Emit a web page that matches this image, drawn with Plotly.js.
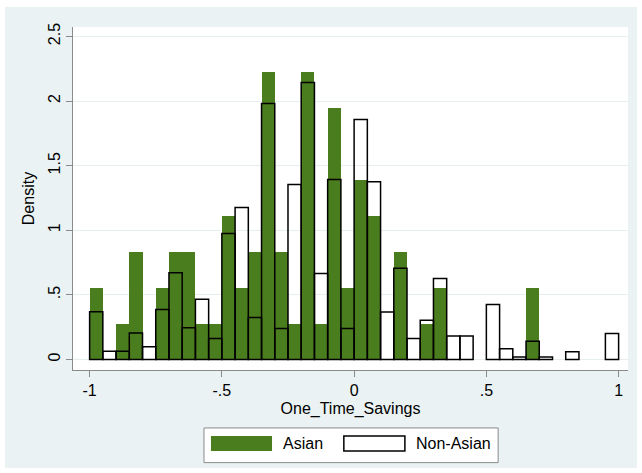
<!DOCTYPE html>
<html>
<head>
<meta charset="utf-8">
<script src="https://cdn.plot.ly/plotly-3.0.1.min.js"></script>
<style>
html,body{margin:0;padding:0;background:#ffffff;}
#chart{position:absolute;left:5px;top:7px;width:632px;height:461px;}
</style>
</head>
<body>
<div id="chart"></div>
<script>
// Bin left edges run from -1 to 0.95 in steps of 0.05 (40 bins)
var binWidth = 0.05;
var binStart = -1;
var asianDensity = [0.556,0,0.278,0.833,0,0.556,0.833,0.833,0.278,0.278,
                    1.111,0.556,0.833,2.222,0.833,0.278,2.222,0.278,1.944,0.556,
                    1.389,1.111,0,0.833,0,0.278,0.556,0,0,0,
                    0,0,0,0.556,0,0,0,0,0,0];
var nonAsianDensity = [0.369,0.065,0.065,0.206,0.098,0.387,0.671,0.245,0.467,0.163,
                       0.975,1.177,0.325,1.981,0.240,1.354,2.144,0.666,1.393,0.240,
                       1.858,1.375,0.367,0.707,0.163,0.304,0.627,0.183,0.183,0,
                       0.426,0.083,0.020,0.142,0.020,0,0.060,0,0,0.201];
var xTickVals = [-1,-0.5,0,0.5,1];
var xTickText = ["-1","-.5","0",".5","1"];
var yTickVals = [0,0.5,1,1.5,2,2.5];
var yTickText = ["0",".5","1","1.5","2","2.5"];
var seriesNames = ["Asian","Non-Asian"];

var green = "#4a7d1e";
var centers = asianDensity.map(function(_, i){ return +(binStart + binWidth*(i+0.5)).toFixed(3); });
function nz(a){ return a.map(function(v){ return v === 0 ? null : v; }); }

var traces = [
  {type:"bar", x:centers, y:nz(asianDensity), width:binWidth, name:seriesNames[0],
   marker:{color:green, line:{width:0}}, hoverinfo:"x+y"},
  {type:"bar", x:centers, y:nz(nonAsianDensity), width:binWidth, name:seriesNames[1],
   marker:{color:"rgba(0,0,0,0)", line:{color:"#000000", width:1.5}}, hoverinfo:"x+y"}
];

var fontFam = "Liberation Sans, Arial, Helvetica, sans-serif";
var layout = {
  width:632, height:461,
  margin:{l:68, r:9, t:20, b:98},
  paper_bgcolor:"#eaf2f3",
  plot_bgcolor:"#ffffff",
  barmode:"overlay",
  bargap:0,
  showlegend:false,
  font:{family:fontFam, size:16, color:"#000000"},
  xaxis:{
    range:[-1.0628, 1.0355],
    tickvals:xTickVals, ticktext:xTickText,
    ticks:"outside", ticklen:6, tickwidth:1, tickcolor:"#8a8a8a",
    showline:true, linecolor:"#8a8a8a", linewidth:1,
    showgrid:false, zeroline:false,
    tickfont:{size:16},
    title:{text:"One_Time_Savings", font:{size:16}, standoff:4}
  },
  yaxis:{
    range:[-0.081, 2.573],
    tickvals:yTickVals, ticktext:yTickText,
    tickangle:-90,
    ticks:"outside", ticklen:6, tickwidth:1, tickcolor:"#8a8a8a",
    showline:true, linecolor:"#8a8a8a", linewidth:1,
    showgrid:true, gridcolor:"#e6eef0", gridwidth:1, zeroline:false,
    tickfont:{size:16},
    title:{text:"Density", font:{size:16}, standoff:6}
  },
  shapes:[
    {type:"rect", xref:"paper", yref:"paper", x0:0.236, x1:0.766, y0:-0.270, y1:-0.169,
     fillcolor:"#ffffff", line:{color:"#8a8a8a", width:1}},
    {type:"rect", xref:"paper", yref:"paper", x0:0.2486, x1:0.3586, y0:-0.2362, y1:-0.1924,
     fillcolor:green, line:{width:0}},
    {type:"rect", xref:"paper", yref:"paper", x0:0.488, x1:0.598, y0:-0.2362, y1:-0.1924,
     fillcolor:"#ffffff", line:{color:"#000000", width:1.5}}
  ],
  annotations:[
    {xref:"paper", yref:"paper", x:0.3748, y:-0.2143, xanchor:"left", yanchor:"middle",
     text:seriesNames[0], showarrow:false, font:{size:16, color:"#000000"}},
    {xref:"paper", yref:"paper", x:0.6144, y:-0.2143, xanchor:"left", yanchor:"middle",
     text:seriesNames[1], showarrow:false, font:{size:16, color:"#000000"}}
  ]
};
Plotly.newPlot("chart", traces, layout, {displayModeBar:false, staticPlot:true});
</script>
</body>
</html>
